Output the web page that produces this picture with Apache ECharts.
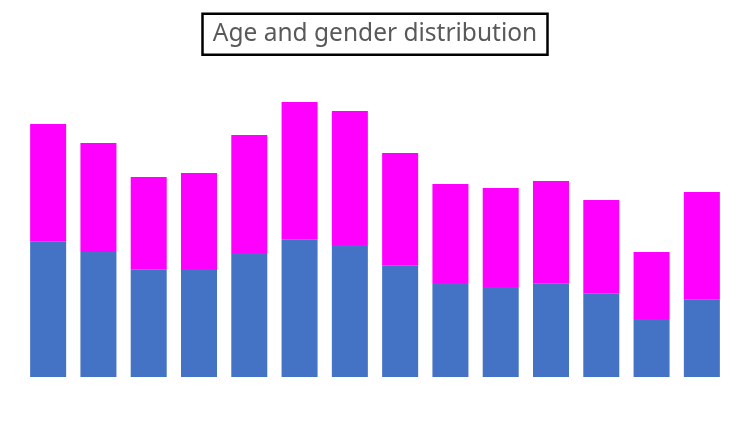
<!DOCTYPE html>
<html>
<head>
<meta charset="utf-8">
<script src="https://cdn.jsdelivr.net/npm/echarts@6/dist/echarts.min.js"></script>
<style>html,body{margin:0;padding:0;background:#fff;}#c{width:750px;height:448px;}</style>
</head>
<body>
<div id="c"></div>
<script>
var categories = ['1','2','3','4','5','6','7','8','9','10','11','12','13','14'];
var maleValues = [135.3, 125, 107.3, 108, 124, 137.7, 132, 111.3, 94, 90, 93.3, 83.3, 58, 77.3];
var femaleValues = [117.7, 109, 92.7, 96, 118, 137.3, 134, 112.7, 99, 99, 102.7, 93.7, 67, 107.7];
var titleText = 'Age and gender distribution';

var chart = echarts.init(document.getElementById('c'), null, {renderer: 'canvas'});
chart.setOption({
  animation: false,
  title: {
    text: titleText,
    left: 'center',
    top: 13.25,
    borderColor: '#000',
    borderWidth: 2.5,
    padding: [6, 11, 6, 11],
    textStyle: {color: '#595959', fontFamily: 'Noto Sans', fontSize: 24.5, fontWeight: 'normal', lineHeight: 30}
  },
  grid: {left: 23, right: 23, top: 77, bottom: 71, containLabel: false},
  xAxis: {type: 'category', data: categories, show: false},
  yAxis: {type: 'value', min: 0, max: 300, show: false},
  series: [
    {name: 'Male', type: 'bar', stack: 'a', data: maleValues, barWidth: 36, itemStyle: {color: '#4472C4'}},
    {name: 'Female', type: 'bar', stack: 'a', data: femaleValues, barWidth: 36, itemStyle: {color: '#FF00FF'}}
  ]
});
</script>
</body>
</html>
